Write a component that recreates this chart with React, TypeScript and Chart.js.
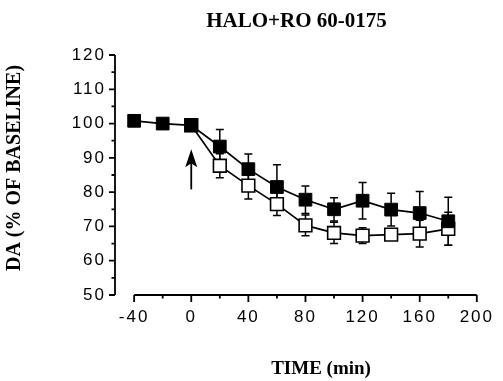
import React, { useEffect, useRef } from 'react';
import { Chart, registerables } from 'chart.js';

Chart.register(...registerables);

// ---- data ----
const TIMES = [-40, -20, 0, 20, 40, 60, 80, 100, 120, 140, 160, 180];
const HALO_RO = [100.8, 100, 99.5, 93.3, 86.7, 81.5, 77.8, 75, 77.5, 74.9, 73.9, 71.5];
const HALO_RO_ERR = [0, 0, 1, 5, 4.4, 6.5, 4, 3.4, 5.3, 4.8, 6.3, 7];

const OPEN_TIMES = [0, 20, 40, 60, 80, 100, 120, 140, 160, 180];
const HALO_RO_OPEN = [99.5, 87.7, 81.9, 76.5, 70.3, 68.1, 67.3, 67.6, 67.9, 69.3];
const HALO_RO_OPEN_ERR = [0, 3.5, 3.9, 3.3, 3, 3.1, 2.3, 1, 3.9, 4.8];

const X_TICKS = [-40, 0, 40, 80, 120, 160, 200];
const X_MINOR = [-20, 20, 60, 100, 140, 180];
const Y_TICKS = [50, 60, 70, 80, 90, 100, 110, 120];
const Y_MINOR = [55, 65, 75, 85, 95, 105, 115];
const X_MIN = -53.4;
const X_MAX = 200;
const Y_MIN = 50;
const Y_MAX = 120;

const ARROW_X = 0;
const ARROW_FROM = 80.8;
const ARROW_TO = 92.5;

const TITLE = 'HALO+RO 60-0175';
const X_TITLE = 'TIME (min)';
const Y_TITLE = 'DA (% OF BASELINE)';

const TICK_FONT = "'Liberation Sans', Arial, sans-serif";
const TITLE_FONT = "'Liberation Serif', 'Times New Roman', serif";

const decorPlugin = {
  id: 'decor',
  beforeDraw(chart: any) {
    chart.ctx.letterSpacing = '0px';
  },
  beforeDatasetsDraw(chart: any) {
    const { ctx, scales } = chart;
    const xs = scales.x;
    const ys = scales.y;
    const drawErr = (t: number[], v: number[], e: number[]) => {
      ctx.save();
      ctx.strokeStyle = '#000';
      ctx.lineWidth = 1.5;
      for (let i = 0; i < t.length; i++) {
        if (!e[i]) continue;
        const x = xs.getPixelForValue(t[i]);
        const y1 = ys.getPixelForValue(v[i] + e[i]);
        const y2 = ys.getPixelForValue(v[i] - e[i]);
        ctx.beginPath();
        ctx.moveTo(x, y1);
        ctx.lineTo(x, y2);
        ctx.moveTo(x - 4, y1);
        ctx.lineTo(x + 4, y1);
        ctx.moveTo(x - 4, y2);
        ctx.lineTo(x + 4, y2);
        ctx.stroke();
      }
      ctx.restore();
    };
    drawErr(OPEN_TIMES, HALO_RO_OPEN, HALO_RO_OPEN_ERR);
    drawErr(TIMES, HALO_RO, HALO_RO_ERR);
  },
  afterDatasetsDraw(chart: any) {
    const { ctx, scales, chartArea } = chart;
    const xs = scales.x;
    const ys = scales.y;
    ctx.save();
    ctx.strokeStyle = '#000';
    ctx.fillStyle = '#000';

    // arrow
    const ax = xs.getPixelForValue(ARROW_X);
    const aFrom = ys.getPixelForValue(ARROW_FROM);
    const aTo = ys.getPixelForValue(ARROW_TO);
    ctx.lineWidth = 1.8;
    ctx.beginPath();
    ctx.moveTo(ax, aFrom);
    ctx.lineTo(ax, aTo + 8);
    ctx.stroke();
    ctx.beginPath();
    ctx.moveTo(ax, aTo);
    ctx.lineTo(ax + 6, aTo + 18);
    ctx.lineTo(ax, aTo + 14);
    ctx.lineTo(ax - 6, aTo + 18);
    ctx.closePath();
    ctx.fill();

    // y axis line + ticks
    const left = chartArea.left;
    ctx.lineWidth = 1.8;
    ctx.beginPath();
    ctx.moveTo(left, ys.getPixelForValue(Y_MAX));
    ctx.lineTo(left, ys.getPixelForValue(Y_MIN));
    Y_TICKS.forEach((v) => {
      const y = ys.getPixelForValue(v);
      ctx.moveTo(left - 6, y);
      ctx.lineTo(left, y);
    });
    Y_MINOR.forEach((v) => {
      const y = ys.getPixelForValue(v);
      ctx.moveTo(left - 3.5, y);
      ctx.lineTo(left, y);
    });
    ctx.stroke();

    // x axis line + ticks
    const bottom = chartArea.bottom;
    ctx.beginPath();
    ctx.moveTo(xs.getPixelForValue(X_TICKS[0]), bottom);
    ctx.lineTo(xs.getPixelForValue(X_TICKS[X_TICKS.length - 1]), bottom);
    X_TICKS.forEach((v) => {
      const x = xs.getPixelForValue(v);
      ctx.moveTo(x, bottom);
      ctx.lineTo(x, bottom + 7);
    });
    X_MINOR.forEach((v) => {
      const x = xs.getPixelForValue(v);
      ctx.moveTo(x, bottom);
      ctx.lineTo(x, bottom + 3.5);
    });
    ctx.stroke();

    // titles
    ctx.letterSpacing = '0px';
    ctx.textAlign = 'center';
    ctx.textBaseline = 'middle';
    ctx.font = `bold 21px ${TITLE_FONT}`;
    ctx.fillText(TITLE, 296.5, 22);
    ctx.font = `bold 19px ${TITLE_FONT}`;
    ctx.fillText(X_TITLE, 321, 369);
    ctx.font = `bold 20px ${TITLE_FONT}`;
    ctx.save();
    ctx.translate(15, 168);
    ctx.rotate(-Math.PI / 2);
    ctx.fillText(Y_TITLE, 0, 0);
    ctx.restore();
    ctx.restore();

    // letter-spaced tick labels are drawn next (ticks.z = 1)
    ctx.letterSpacing = '2px';
  },
  afterDraw(chart: any) {
    chart.ctx.letterSpacing = '0px';
  },
};

export default function App() {
  const ref = useRef<HTMLCanvasElement | null>(null);

  useEffect(() => {
    document.body.style.margin = '0';
    const canvas = ref.current;
    if (!canvas) return;
    const chart = new Chart(canvas, {
      type: 'line',
      data: {
        datasets: [
          {
            label: 'HALO+RO 60-0175 (filled)',
            data: TIMES.map((t, i) => ({ x: t, y: HALO_RO[i] })),
            borderColor: '#000',
            borderWidth: 1.7,
            pointStyle: 'rect',
            pointRadius: 9,
            pointBackgroundColor: '#000',
            pointBorderColor: '#000',
            pointBorderWidth: 1,
            tension: 0,
            clip: false,
          },
          {
            label: 'HALO+RO 60-0175 (open)',
            data: OPEN_TIMES.map((t, i) => ({ x: t, y: HALO_RO_OPEN[i] })),
            borderColor: '#000',
            borderWidth: 1.7,
            pointStyle: 'rect',
            pointRadius: 9,
            pointBackgroundColor: '#fff',
            pointBorderColor: '#000',
            pointBorderWidth: 1.6,
            tension: 0,
            clip: false,
          },
        ],
      },
      options: {
        animation: false,
        responsive: false,
        devicePixelRatio: 1,
        layout: { padding: { top: 55, right: 19.7, bottom: 0, left: 0 } },
        plugins: {
          legend: { display: false },
          tooltip: { enabled: false },
          title: { display: false },
        },
        scales: {
          x: {
            type: 'linear',
            min: X_MIN,
            max: X_MAX,
            afterBuildTicks: (s: any) => {
              s.ticks = X_TICKS.map((v) => ({ value: v }));
            },
            afterFit: (s: any) => {
              s.height = 86;
            },
            grid: { display: false, drawTicks: false },
            border: { display: false },
            ticks: {
              z: 1,
              color: '#000',
              padding: 12,
              maxRotation: 0,
              autoSkip: false,
              font: { family: TICK_FONT, size: 17 },
              callback: (v: any) => String(v),
            },
          },
          y: {
            type: 'linear',
            min: Y_MIN,
            max: Y_MAX,
            afterBuildTicks: (s: any) => {
              s.ticks = Y_TICKS.map((v) => ({ value: v }));
            },
            afterFit: (s: any) => {
              s.width = 115;
            },
            grid: { display: false, drawTicks: false },
            border: { display: false },
            ticks: {
              z: 1,
              color: '#000',
              padding: 9,
              autoSkip: false,
              font: { family: TICK_FONT, size: 17 },
              callback: (v: any) => String(v),
            },
          },
        },
      },
      plugins: [decorPlugin],
    } as any);
    return () => chart.destroy();
  }, []);

  return (
    <div style={{ width: 503, height: 381, background: '#fff' }}>
      <canvas ref={ref} width={503} height={381} style={{ display: 'block' }} />
    </div>
  );
}
